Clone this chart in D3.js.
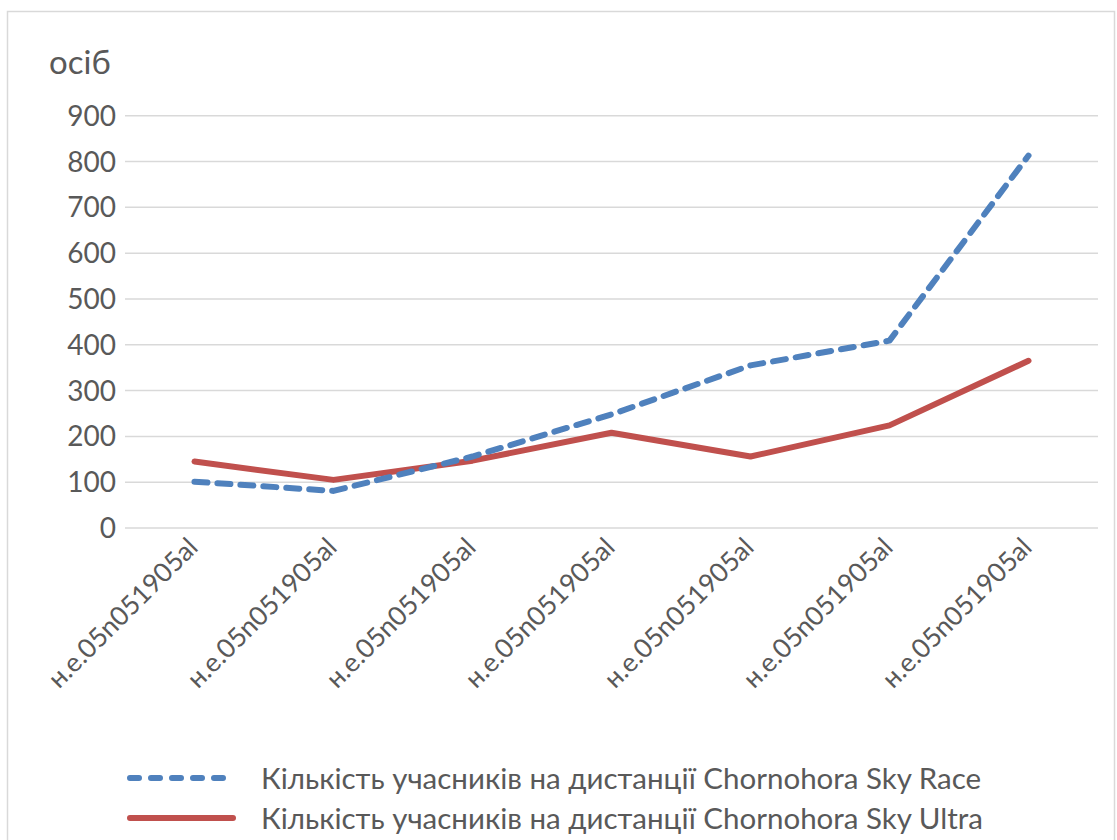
<!DOCTYPE html>
<html>
<head>
<meta charset="utf-8">
<script src="https://cdn.jsdelivr.net/npm/d3@7"></script>
<style>
  body { margin: 0; background: #fff; }
  text { font-family: Lato, "Liberation Sans", sans-serif; fill: #595959; }
</style>
</head>
<body>
<script>
// chart data
const categories = ["c1", "c2", "c3", "c4", "c5", "c6", "c7"];
const catLabel = "н.е.05n051905al";
const raceValues = [101, 81, 156, 248, 355, 409, 813];
const ultraValues = [145, 105, 147, 208, 156, 224, 365];
const yTicks = [0, 100, 200, 300, 400, 500, 600, 700, 800, 900];
const seriesNames = [
  "Кількість учасників на дистанції Chornohora Sky Race",
  "Кількість учасників на дистанції Chornohora Sky Ultra"
];

const width = 1117, height = 840;
const plotLeft = 125, plotRight = 1098, plotTop = 115.7, plotBottom = 528;

const svg = d3.select("body").append("svg")
  .attr("width", width)
  .attr("height", height);

// outer border
svg.append("rect")
  .attr("x", 7.5).attr("y", 11.5)
  .attr("width", 1107).attr("height", 840)
  .attr("fill", "none")
  .attr("stroke", "#d9d9d9")
  .attr("stroke-width", 1.5);

const x = d3.scalePoint()
  .domain(categories)
  .range([plotLeft, plotRight])
  .padding(0.5);

const y = d3.scaleLinear()
  .domain([0, 900])
  .range([plotBottom, plotTop]);

// gridlines
svg.append("g").selectAll("line")
  .data(yTicks)
  .enter()
  .append("line")
    .attr("x1", plotLeft).attr("x2", plotRight)
    .attr("y1", d => y(d)).attr("y2", d => y(d))
    .attr("stroke", "#d9d9d9")
    .attr("stroke-width", 1.5);

// y labels
svg.append("g").selectAll("text")
  .data(yTicks)
  .enter()
  .append("text")
    .attr("x", 116)
    .attr("y", d => y(d))
    .attr("dy", "0.36em")
    .attr("text-anchor", "end")
    .style("font-size", "28px")
    .text(d => d);

svg.append("text")
  .attr("x", 49).attr("y", 74)
  .style("font-size", "33px")
  .text("осіб");

// x labels, rotated
svg.append("g").selectAll("text")
  .data(categories)
  .enter()
  .append("text")
    .attr("transform", d => `translate(${x(d) + 5},${549}) rotate(-45)`)
    .attr("text-anchor", "end")
    .style("font-size", "26.5px")
    .text(catLabel);

const line = d3.line()
  .x((d, i) => x(categories[i]))
  .y(d => y(d));

svg.append("path")
  .datum(ultraValues)
  .attr("d", line)
  .attr("fill", "none")
  .attr("stroke", "#c0504d")
  .attr("stroke-width", 6)
  .attr("stroke-linecap", "round")
  .attr("stroke-linejoin", "round");

svg.append("path")
  .datum(raceValues)
  .attr("d", line)
  .attr("fill", "none")
  .attr("stroke", "#4f81bd")
  .attr("stroke-width", 6)
  .attr("stroke-dasharray", "13,10")
  .attr("stroke-linecap", "round")
  .attr("stroke-linejoin", "round");

// legend
const legend = svg.append("g");
const legendRows = [
  {name: seriesNames[0], color: "#4f81bd", dash: "9,12", y: 778},
  {name: seriesNames[1], color: "#c0504d", dash: null, y: 818}
];
legendRows.forEach(r => {
  legend.append("line")
    .attr("x1", 130).attr("x2", 233)
    .attr("y1", r.y).attr("y2", r.y)
    .attr("stroke", r.color)
    .attr("stroke-width", 6)
    .attr("stroke-linecap", "round")
    .attr("stroke-dasharray", r.dash);
  legend.append("text")
    .attr("x", 261).attr("y", r.y)
    .attr("dy", "0.36em")
    .style("font-size", "29.5px")
    .text(r.name);
});
</script>
</body>
</html>
